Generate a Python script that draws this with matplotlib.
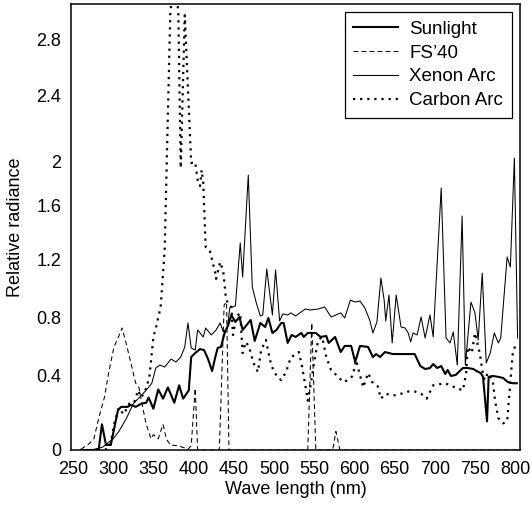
import numpy as np
import matplotlib
matplotlib.use('Agg')
import matplotlib.pyplot as plt

plt.rcParams['font.family'] = ['Liberation Sans', 'DejaVu Sans']

# wavelength (nm) / relative radiance
sun_nm = [260, 275, 282, 286, 291, 297, 306, 310, 318, 322, 328, 335, 341, 344, 350, 356, 362, 368,
          376, 382, 387, 394, 397, 402, 408, 413, 418, 423, 427, 430, 434, 439, 443, 447, 452, 457,
          461, 471, 476, 483, 489, 493, 498, 503, 509, 512, 517, 522, 527, 534, 537, 542, 552, 558,
          565, 568, 576, 583, 588, 596, 601, 607, 617, 623, 627, 632, 638, 648, 675, 682, 688, 694,
          698, 703, 708, 713, 716, 720, 726, 731, 735, 741, 748, 752, 757, 760, 765, 767, 772, 779,
          785, 791, 797, 802]
sun_val = [0, 0, 0.005, 0.137, 0.027, 0.027, 0.214, 0.23, 0.23, 0.241, 0.23, 0.247, 0.252, 0.28,
           0.22, 0.323, 0.274, 0.334, 0.252, 0.345, 0.274, 0.318, 0.526, 0.554, 0.582, 0.575, 0.512,
           0.428, 0.526, 0.59, 0.597, 0.702, 0.75, 0.82, 0.772, 0.807, 0.716, 0.786, 0.639, 0.765,
           0.737, 0.8, 0.695, 0.716, 0.765, 0.765, 0.625, 0.681, 0.667, 0.695, 0.667, 0.695, 0.695,
           0.667, 0.674, 0.625, 0.667, 0.561, 0.604, 0.604, 0.491, 0.604, 0.597, 0.526, 0.547, 0.526,
           0.561, 0.547, 0.547, 0.463, 0.442, 0.449, 0.477, 0.449, 0.463, 0.407, 0.435, 0.395, 0.4,
           0.428, 0.449, 0.449, 0.442, 0.428, 0.414, 0.39, 0.153, 0.39, 0.395, 0.39, 0.384, 0.362,
           0.356, 0.356]

fs_nm = [260, 270, 276, 282, 289, 295, 301, 306, 311, 316, 322, 328, 332, 335, 341, 347, 350, 356,
         362, 366, 371, 381, 393, 397, 402, 405, 432, 438, 441, 444, 542, 547, 552, 573, 577, 582, 802]
fs_val = [0.005, 0.033, 0.06, 0.17, 0.28, 0.435, 0.597, 0.66, 0.73, 0.625, 0.484, 0.356, 0.334,
          0.263, 0.137, 0.06, 0.082, 0.06, 0.137, 0.06, 0.027, 0.022, 0.005, 0.022, 0.329, 0, 0,
          0.89, 0.91, 0, 0, 0.765, 0, 0, 0.099, 0, 0]

xe_nm = [260, 275, 287, 300, 307, 316, 325, 337, 344, 348, 353, 358, 364, 372, 378, 384, 389, 393,
         397, 402, 405, 412, 415, 422, 428, 433, 437, 442, 445, 452, 458, 461, 468, 473, 478, 483,
         486, 491, 498, 502, 507, 511, 517, 521, 527, 532, 539, 545, 555, 563, 571, 577, 583, 588,
         595, 601, 607, 613, 619, 623, 628, 633, 637, 639, 643, 647, 652, 658, 663, 667, 670, 673,
         678, 683, 688, 694, 698, 708, 714, 719, 723, 728, 734, 738, 745, 750, 754, 759, 764, 769,
         774, 779, 782, 790, 794, 799, 803]
xe_val = [0, 0, 0.016, 0.06, 0.099, 0.165, 0.247, 0.30, 0.334, 0.356, 0.449, 0.47, 0.456, 0.512,
          0.491, 0.526, 0.597, 0.765, 0.59, 0.575, 0.716, 0.667, 0.73, 0.681, 0.716, 0.765, 0.702,
          0.73, 0.869, 0.883, 1.324, 1.083, 1.873, 1.014, 0.904, 0.814, 0.821, 1.138, 0.821, 1.131,
          0.779, 0.828, 0.821, 0.835, 0.814, 0.835, 0.862, 0.855, 0.862, 0.876, 0.807, 0.821, 0.835,
          0.8, 0.924, 0.91, 0.917, 0.869, 0.786, 0.695, 0.772, 1.076, 0.924, 0.779, 0.959, 0.625,
          0.959, 0.737, 0.73, 0.695, 0.632, 0.695, 0.681, 0.807, 0.66, 0.821, 0.667, 1.755, 0.66,
          0.625, 0.702, 0.47, 1.52, 0.47, 0.91, 0.835, 0.646, 1.11, 0.484, 0.554, 0.695, 0.625, 0.66,
          1.222, 1.152, 2.018, 0.66]

ca_nm = [290, 297, 301, 307, 313, 320, 326, 331, 335, 341, 345, 350, 354, 359, 364, 371, 376, 381,
         384, 389, 397, 402, 405, 408, 410, 412, 415, 420, 427, 428, 433, 437, 440, 443, 447, 449,
         453, 458, 461, 465, 469, 474, 480, 484, 490, 495, 499, 505, 509, 515, 521, 526, 531, 535,
         539, 542, 546, 549, 551, 555, 560, 565, 571, 580, 586, 592, 598, 602, 611, 617, 623, 629,
         633, 639, 648, 658, 667, 675, 683, 690, 698, 713, 725, 735, 739, 741, 746, 750, 754, 756,
         759, 762, 766, 772, 775, 779, 785, 790, 794, 797, 800]
ca_val = [0, 0.033, 0.137, 0.225, 0.19, 0.247, 0.252, 0.318, 0.28, 0.329, 0.39, 0.667, 0.751, 0.876,
          1.273, 2.99, 3.3, 3.0, 1.936, 2.98, 1.982, 1.99, 1.827, 1.773, 1.918, 1.80, 1.295, 1.273,
          1.11, 1.07, 1.186, 1.117, 0.945, 0.89, 0.876, 0.681, 0.807, 0.835, 0.554, 0.632, 0.597,
          0.491, 0.421, 0.575, 0.646, 0.505, 0.435, 0.384, 0.373, 0.421, 0.526, 0.54, 0.561, 0.456,
          0.345, 0.263, 0.356, 0.456, 0.526, 0.646, 0.667, 0.526, 0.435, 0.39, 0.362, 0.373, 0.395,
          0.505, 0.334, 0.414, 0.356, 0.34, 0.274, 0.30, 0.29, 0.30, 0.312, 0.312, 0.30, 0.274,
          0.345, 0.356, 0.334, 0.318, 0.414, 0.597, 0.554, 0.695, 0.597, 0.554, 0.435, 0.373, 0.414,
          0.373, 0.263, 0.17, 0.142, 0.153, 0.362, 0.554, 0.604]

x_ticks = [250, 300, 350, 400, 450, 500, 550, 600, 650, 700, 750, 800]
y_ticks = [0, 0.4, 0.8, 1.2, 1.6, 2, 2.4, 2.8]
y_labels = ['0', '0.4', '0.8', '1.2', '1.6', '2', '2.4', '2.8']

# the printed y axis is not evenly spaced: piecewise scale through the label spacing
scale_v = np.array([-0.5, 0, 0.4, 0.8, 1.2, 1.6, 2, 2.4, 2.8, 4.0])
scale_h = np.array([-91.0, 0, 75, 132, 190, 245, 289, 355, 410, 575])


def fwd(v):
    return np.interp(v, scale_v, scale_h)


def inv(h):
    return np.interp(h, scale_h, scale_v)


fig = plt.figure(figsize=(5.31, 5.05), dpi=100)
ax = fig.add_axes([71 / 531, 55 / 505, 449 / 531, 446 / 505])
ax.set_yscale('function', functions=(fwd, inv))

ax.plot(sun_nm, sun_val, color='black', lw=1.5, label='Sunlight')
ax.plot(fs_nm, fs_val, color='black', lw=0.75, ls=(0, (4.5, 3.2)), label='FS\u201940')
ax.plot(xe_nm, xe_val, color='black', lw=0.75, label='Xenon Arc')
ax.plot(ca_nm, ca_val, color='black', lw=1.6, ls=(0, (1, 2.2)), label='Carbon Arc')

ax.set_xlim(247.5, 806)
ax.set_ylim(0, inv(446))
ax.set_xticks(x_ticks)
ax.set_yticks(y_ticks)
ax.set_yticklabels(y_labels)
ax.minorticks_off()
ax.tick_params(axis='both', length=0, labelsize=13)
ax.tick_params(axis='y', pad=7)
ax.tick_params(axis='x', pad=8)
for s in ax.spines.values():
    s.set_linewidth(1.1)
    s.set_zorder(5)

ax.set_xlabel('Wave length (nm)', fontsize=13, labelpad=2)
ax.set_ylabel('Relative radiance', fontsize=13)
ax.yaxis.set_label_coords(-0.105, 0.5)

leg = ax.legend(loc='upper right', fontsize=13.5, frameon=True, fancybox=False,
                edgecolor='black', framealpha=1, handlelength=2.4, handletextpad=0.6,
                labelspacing=0.35, borderpad=0.45, borderaxespad=0.45)
leg.get_frame().set_linewidth(0.9)

fig.savefig('out.png', dpi=100)
